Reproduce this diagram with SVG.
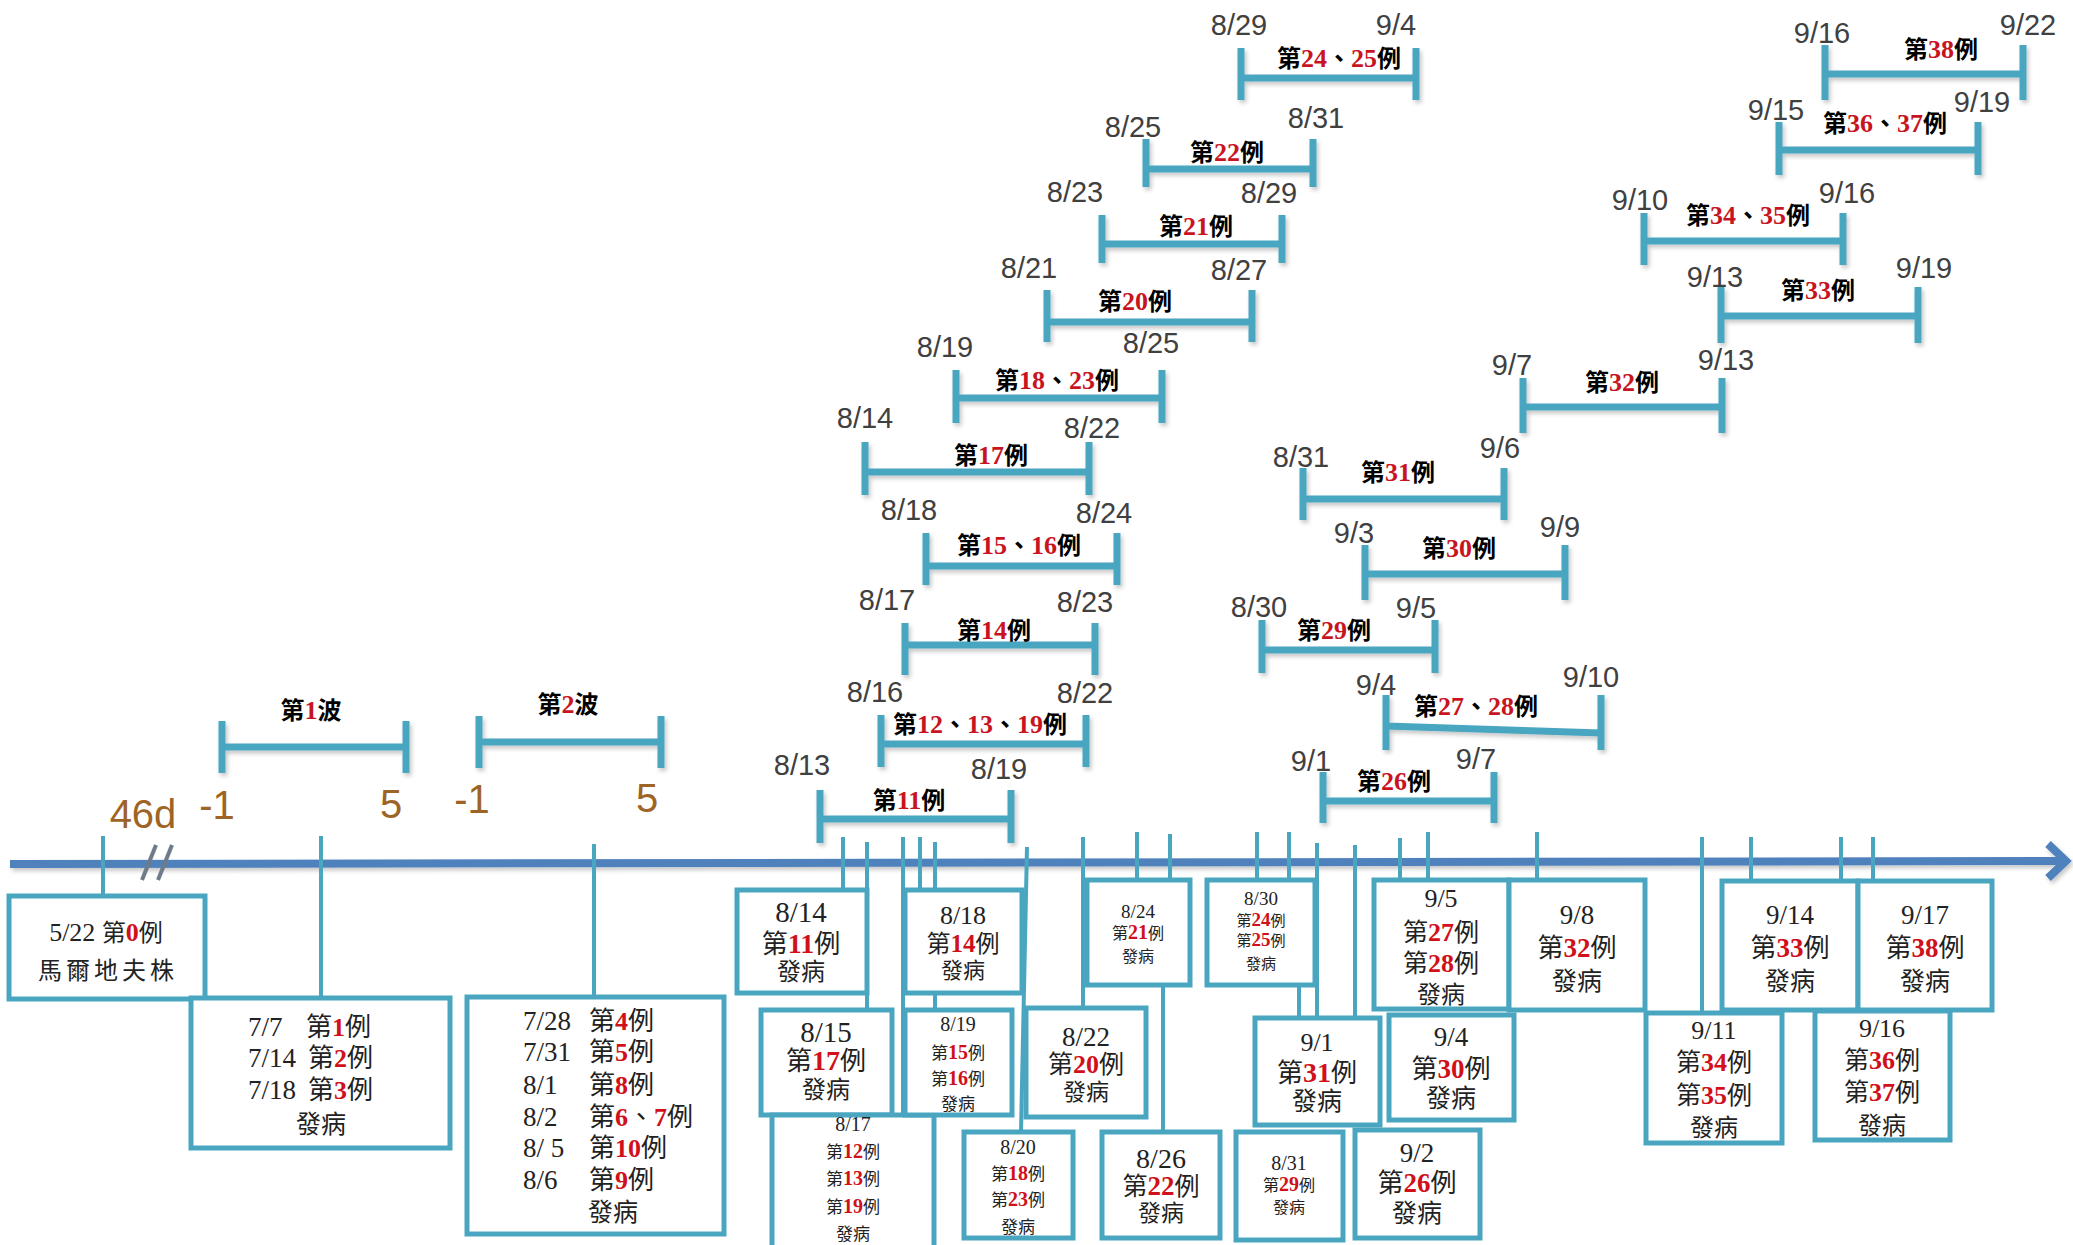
<svg xmlns="http://www.w3.org/2000/svg" width="2073" height="1245" viewBox="0 0 2073 1245">
<defs>
<filter id="sh" x="-5%" y="-30%" width="110%" height="170%"><feDropShadow dx="2" dy="3" stdDeviation="2" flood-color="#000" flood-opacity="0.22"/></filter>
<style>
.bar{fill:none;stroke:#4AA6C0;stroke-width:7;filter:url(#sh)}
.cn{stroke:#4AA6C0;stroke-width:4;fill:none}
.bx{fill:#fff;stroke:#4AA6C0;stroke-width:5}
.dl{font-family:"Liberation Sans",Arial,sans-serif;font-size:29px;fill:#404040;text-anchor:middle}
.br{font-family:"Liberation Sans",Arial,sans-serif;font-size:40px;fill:#9E6426;text-anchor:middle}
.bl{font-family:"Liberation Serif","Noto Sans CJK TC",serif;font-size:24px;font-weight:bold;fill:#000;text-anchor:middle}
.r{fill:#C8141E;font-size:26px}
.bd{font-family:"Liberation Serif","Noto Sans CJK TC",serif;fill:#222;text-anchor:middle}
.bc{font-family:"Noto Sans CJK TC","Liberation Serif",sans-serif;fill:#222;text-anchor:middle}
.st{text-anchor:start}
.rn{font-family:"Liberation Serif",serif;font-weight:bold;fill:#D0101A}
</style>
</defs>
<rect width="2073" height="1245" fill="#fff"/>

<g id="timeline" filter="url(#sh)">
<path d="M10 864 L2064 861" stroke="#4F81BD" stroke-width="8" fill="none"/>
<path d="M2048 844 L2066 861 L2048 878" stroke="#4F81BD" stroke-width="8" fill="none" stroke-linejoin="miter"/>
</g>
<g id="break-mark" stroke="#6F7B8A" stroke-width="4">
<line x1="142" y1="880" x2="156" y2="845"/>
<line x1="158" y1="880" x2="172" y2="845"/>
</g>
<text class="br" x="143" y="828">46d</text>

<g id="connectors" class="cn">
<line x1="103" y1="836" x2="103" y2="896"/>
<line x1="321" y1="836" x2="321" y2="998"/>
<line x1="594" y1="844" x2="594" y2="997"/>
<line x1="843" y1="837" x2="843" y2="890"/>
<line x1="867" y1="842" x2="867" y2="1010"/>
<line x1="903" y1="837" x2="903" y2="1115"/>
<line x1="920" y1="837" x2="920" y2="890"/>
<line x1="935" y1="842" x2="935" y2="890"/>
<line x1="935" y1="993" x2="935" y2="1010"/>
<line x1="1027" y1="847" x2="1021" y2="1132"/>
<line x1="1083" y1="837" x2="1083" y2="1008"/>
<line x1="1137" y1="832" x2="1137" y2="880"/>
<line x1="1170" y1="834" x2="1170" y2="880"/>
<line x1="1163" y1="985" x2="1163" y2="1132"/>
<line x1="1257" y1="832" x2="1257" y2="880"/>
<line x1="1289" y1="832" x2="1289" y2="880"/>
<line x1="1299" y1="985" x2="1299" y2="1018"/>
<line x1="1317" y1="843" x2="1317" y2="1018"/>
<line x1="1355" y1="845" x2="1355" y2="1018"/>
<line x1="1400" y1="838" x2="1400" y2="880"/>
<line x1="1428" y1="832" x2="1428" y2="880"/>
<line x1="1537" y1="832" x2="1537" y2="881"/>
<line x1="1702" y1="837" x2="1702" y2="1013"/>
<line x1="1751" y1="837" x2="1751" y2="881"/>
<line x1="1841" y1="837" x2="1841" y2="881"/>
<line x1="1873" y1="837" x2="1873" y2="881"/>
</g>

<g id="wave1"><path class="bar" d="M222 747H406M222 721V773M406 721V773"/>
<text class="bl" x="311" y="719">第<tspan class="r">1</tspan>波</text>
<text class="br" x="217" y="819">-1</text><text class="br" x="391" y="818">5</text></g>
<g id="wave2"><path class="bar" d="M479 742H661M479 716V768M661 716V768"/>
<text class="bl" x="568" y="713">第<tspan class="r">2</tspan>波</text>
<text class="br" x="472" y="813">-1</text><text class="br" x="647" y="812">5</text></g>

<g id="bar11"><path class="bar" d="M820 819H1011M820 790V843M1011 790V843"/>
<text class="dl" x="802" y="775">8/13</text><text class="dl" x="999" y="779">8/19</text>
<text class="bl" x="909" y="809">第<tspan class="r">11</tspan>例</text></g>
<g id="bar12"><path class="bar" d="M881 744H1086M881 715V767M1086 715V767"/>
<text class="dl" x="875" y="702">8/16</text><text class="dl" x="1085" y="703">8/22</text>
<text class="bl" x="980" y="733">第<tspan class="r">12</tspan>、<tspan class="r">13</tspan>、<tspan class="r">19</tspan>例</text></g>
<g id="bar14"><path class="bar" d="M905 645H1095M905 623V675M1095 623V675"/>
<text class="dl" x="887" y="610">8/17</text><text class="dl" x="1085" y="612">8/23</text>
<text class="bl" x="994" y="639">第<tspan class="r">14</tspan>例</text></g>
<g id="bar15"><path class="bar" d="M926 566H1117M926 533V585M1117 533V585"/>
<text class="dl" x="909" y="520">8/18</text><text class="dl" x="1104" y="523">8/24</text>
<text class="bl" x="1019" y="554">第<tspan class="r">15</tspan>、<tspan class="r">16</tspan>例</text></g>
<g id="bar17"><path class="bar" d="M865 472H1089M865 442V495M1089 442V495"/>
<text class="dl" x="865" y="428">8/14</text><text class="dl" x="1092" y="438">8/22</text>
<text class="bl" x="991" y="464">第<tspan class="r">17</tspan>例</text></g>
<g id="bar18"><path class="bar" d="M956 398H1162M956 370V423M1162 370V423"/>
<text class="dl" x="945" y="357">8/19</text><text class="dl" x="1151" y="353">8/25</text>
<text class="bl" x="1057" y="389">第<tspan class="r">18</tspan>、<tspan class="r">23</tspan>例</text></g>
<g id="bar20"><path class="bar" d="M1047 322H1252M1047 290V342M1252 290V342"/>
<text class="dl" x="1029" y="278">8/21</text><text class="dl" x="1239" y="280">8/27</text>
<text class="bl" x="1135" y="310">第<tspan class="r">20</tspan>例</text></g>
<g id="bar21"><path class="bar" d="M1102 244H1282M1102 215V263M1282 215V263"/>
<text class="dl" x="1075" y="202">8/23</text><text class="dl" x="1269" y="203">8/29</text>
<text class="bl" x="1196" y="235">第<tspan class="r">21</tspan>例</text></g>
<g id="bar22"><path class="bar" d="M1146 169H1313M1146 139V187M1313 139V187"/>
<text class="dl" x="1133" y="137">8/25</text><text class="dl" x="1316" y="128">8/31</text>
<text class="bl" x="1227" y="161">第<tspan class="r">22</tspan>例</text></g>
<g id="bar24"><path class="bar" d="M1241 78H1416M1241 48V100M1416 48V100"/>
<text class="dl" x="1239" y="35">8/29</text><text class="dl" x="1396" y="35">9/4</text>
<text class="bl" x="1339" y="67">第<tspan class="r">24</tspan>、<tspan class="r">25</tspan>例</text></g>
<g id="bar26"><path class="bar" d="M1323 801H1494M1323 772V823M1494 772V823"/>
<text class="dl" x="1311" y="771">9/1</text><text class="dl" x="1476" y="769">9/7</text>
<text class="bl" x="1394" y="790">第<tspan class="r">26</tspan>例</text></g>
<g id="bar27"><path class="bar" d="M1386 726L1601 733M1386 695V750M1601 695V750"/>
<text class="dl" x="1376" y="695">9/4</text><text class="dl" x="1591" y="687">9/10</text>
<text class="bl" x="1476" y="715">第<tspan class="r">27</tspan>、<tspan class="r">28</tspan>例</text></g>
<g id="bar29"><path class="bar" d="M1262 650H1435M1262 620V673M1435 620V673"/>
<text class="dl" x="1259" y="617">8/30</text><text class="dl" x="1416" y="618">9/5</text>
<text class="bl" x="1334" y="639">第<tspan class="r">29</tspan>例</text></g>
<g id="bar30"><path class="bar" d="M1365 574H1565M1365 545V600M1565 545V600"/>
<text class="dl" x="1354" y="543">9/3</text><text class="dl" x="1560" y="537">9/9</text>
<text class="bl" x="1459" y="557">第<tspan class="r">30</tspan>例</text></g>
<g id="bar31"><path class="bar" d="M1303 499H1504M1303 468V520M1504 468V520"/>
<text class="dl" x="1301" y="467">8/31</text><text class="dl" x="1500" y="458">9/6</text>
<text class="bl" x="1398" y="481">第<tspan class="r">31</tspan>例</text></g>
<g id="bar32"><path class="bar" d="M1523 407H1722M1523 378V433M1722 378V433"/>
<text class="dl" x="1512" y="375">9/7</text><text class="dl" x="1726" y="370">9/13</text>
<text class="bl" x="1622" y="391">第<tspan class="r">32</tspan>例</text></g>
<g id="bar33"><path class="bar" d="M1721 316H1918M1721 287V343M1918 287V343"/>
<text class="dl" x="1715" y="287">9/13</text><text class="dl" x="1924" y="278">9/19</text>
<text class="bl" x="1818" y="299">第<tspan class="r">33</tspan>例</text></g>
<g id="bar34"><path class="bar" d="M1644 241H1843M1644 213V265M1843 213V265"/>
<text class="dl" x="1640" y="210">9/10</text><text class="dl" x="1847" y="203">9/16</text>
<text class="bl" x="1748" y="224">第<tspan class="r">34</tspan>、<tspan class="r">35</tspan>例</text></g>
<g id="bar36"><path class="bar" d="M1779 150H1978M1779 122V175M1978 122V175"/>
<text class="dl" x="1776" y="120">9/15</text><text class="dl" x="1982" y="112">9/19</text>
<text class="bl" x="1885" y="132">第<tspan class="r">36</tspan>、<tspan class="r">37</tspan>例</text></g>
<g id="bar38"><path class="bar" d="M1825 74H2023M1825 45V100M2023 45V100"/>
<text class="dl" x="1822" y="43">9/16</text><text class="dl" x="2028" y="35">9/22</text>
<text class="bl" x="1941" y="58">第<tspan class="r">38</tspan>例</text></g>

<g id="box-0522"><rect class="bx" x="9" y="896" width="196" height="103"/>
<text class="bd" x="106" y="941" font-size="26">5/22 <tspan class="bc" font-size="24">第</tspan><tspan class="rn">0</tspan><tspan class="bc" font-size="24">例</tspan></text>
<text class="bc" x="108" y="979" font-size="24" letter-spacing="4" fill="#444">馬爾地夫株</text></g>

<g id="box-wave1"><rect class="bx" x="191" y="998" width="259" height="150"/>
<text class="bd st" x="248" y="1036" font-size="27">7/7</text><text class="bc st" x="306" y="1036" font-size="26">第<tspan class="rn">1</tspan>例</text>
<text class="bd st" x="248" y="1067" font-size="27">7/14</text><text class="bc st" x="308" y="1067" font-size="26">第<tspan class="rn">2</tspan>例</text>
<text class="bd st" x="248" y="1099" font-size="27">7/18</text><text class="bc st" x="308" y="1099" font-size="26">第<tspan class="rn">3</tspan>例</text>
<text class="bc" x="321" y="1133" font-size="25">發病</text></g>

<g id="box-wave2"><rect class="bx" x="467" y="997" width="257" height="237"/>
<text class="bd st" x="523" y="1030" font-size="27">7/28</text><text class="bc st" x="589" y="1030" font-size="26">第<tspan class="rn">4</tspan>例</text>
<text class="bd st" x="523" y="1061" font-size="27">7/31</text><text class="bc st" x="589" y="1061" font-size="26">第<tspan class="rn">5</tspan>例</text>
<text class="bd st" x="523" y="1094" font-size="27">8/1</text><text class="bc st" x="589" y="1094" font-size="26">第<tspan class="rn">8</tspan>例</text>
<text class="bd st" x="523" y="1126" font-size="27">8/2</text><text class="bc st" x="589" y="1126" font-size="26">第<tspan class="rn">6</tspan>、<tspan class="rn">7</tspan>例</text>
<text class="bd st" x="523" y="1157" font-size="27">8/ 5</text><text class="bc st" x="589" y="1157" font-size="26">第<tspan class="rn">10</tspan>例</text>
<text class="bd st" x="523" y="1189" font-size="27">8/6</text><text class="bc st" x="589" y="1189" font-size="26">第<tspan class="rn">9</tspan>例</text>
<text class="bc" x="613" y="1221" font-size="25">發病</text></g>

<g id="box-0814"><rect class="bx" x="737" y="890" width="130" height="103"/>
<text class="bd" x="801" y="922" font-size="29">8/14</text>
<text class="bc" x="801" y="953" font-size="26">第<tspan class="rn" font-size="28">11</tspan>例</text>
<text class="bc" x="801" y="980" font-size="24">發病</text></g>

<g id="box-0815"><rect class="bx" x="761" y="1010" width="131" height="105"/>
<text class="bd" x="826" y="1042" font-size="29">8/15</text>
<text class="bc" x="826" y="1070" font-size="26">第<tspan class="rn" font-size="28">17</tspan>例</text>
<text class="bc" x="826" y="1098" font-size="24">發病</text></g>

<g id="box-0817"><rect class="bx" x="772" y="1115" width="162" height="145"/>
<text class="bd" x="853" y="1131" font-size="20">8/17</text>
<text class="bc" x="853" y="1158" font-size="17">第<tspan class="rn" font-size="20">12</tspan>例</text>
<text class="bc" x="853" y="1185" font-size="17">第<tspan class="rn" font-size="20">13</tspan>例</text>
<text class="bc" x="853" y="1213" font-size="17">第<tspan class="rn" font-size="20">19</tspan>例</text>
<text class="bc" x="853" y="1240" font-size="17">發病</text></g>

<g id="box-0818"><rect class="bx" x="905" y="890" width="117" height="103"/>
<text class="bd" x="963" y="924" font-size="26">8/18</text>
<text class="bc" x="963" y="952" font-size="24">第<tspan class="rn" font-size="25">14</tspan>例</text>
<text class="bc" x="963" y="978" font-size="22">發病</text></g>

<g id="box-0819"><rect class="bx" x="905" y="1010" width="107" height="105"/>
<text class="bd" x="958" y="1031" font-size="20">8/19</text>
<text class="bc" x="958" y="1059" font-size="17">第<tspan class="rn" font-size="20">15</tspan>例</text>
<text class="bc" x="958" y="1085" font-size="17">第<tspan class="rn" font-size="20">16</tspan>例</text>
<text class="bc" x="958" y="1110" font-size="17">發病</text></g>

<g id="box-0820"><rect class="bx" x="964" y="1132" width="109" height="106"/>
<text class="bd" x="1018" y="1154" font-size="20">8/20</text>
<text class="bc" x="1018" y="1180" font-size="17">第<tspan class="rn" font-size="20">18</tspan>例</text>
<text class="bc" x="1018" y="1206" font-size="17">第<tspan class="rn" font-size="20">23</tspan>例</text>
<text class="bc" x="1018" y="1233" font-size="17">發病</text></g>

<g id="box-0822"><rect class="bx" x="1026" y="1008" width="120" height="109"/>
<text class="bd" x="1086" y="1046" font-size="27">8/22</text>
<text class="bc" x="1086" y="1073" font-size="25">第<tspan class="rn" font-size="26">20</tspan>例</text>
<text class="bc" x="1086" y="1100" font-size="23">發病</text></g>

<g id="box-0824"><rect class="bx" x="1087" y="880" width="103" height="105"/>
<text class="bd" x="1138" y="918" font-size="19">8/24</text>
<text class="bc" x="1138" y="939" font-size="16">第<tspan class="rn" font-size="20">21</tspan>例</text>
<text class="bc" x="1138" y="962" font-size="16">發病</text></g>

<g id="box-0826"><rect class="bx" x="1102" y="1132" width="118" height="106"/>
<text class="bd" x="1161" y="1168" font-size="28">8/26</text>
<text class="bc" x="1161" y="1195" font-size="25">第<tspan class="rn" font-size="27">22</tspan>例</text>
<text class="bc" x="1161" y="1221" font-size="23">發病</text></g>

<g id="box-0830"><rect class="bx" x="1207" y="880" width="108" height="105"/>
<text class="bd" x="1261" y="905" font-size="19">8/30</text>
<text class="bc" x="1261" y="926" font-size="15">第<tspan class="rn" font-size="19">24</tspan>例</text>
<text class="bc" x="1261" y="946" font-size="15">第<tspan class="rn" font-size="19">25</tspan>例</text>
<text class="bc" x="1261" y="969" font-size="15">發病</text></g>

<g id="box-0901"><rect class="bx" x="1255" y="1018" width="125" height="107"/>
<text class="bd" x="1317" y="1051" font-size="26">9/1</text>
<text class="bc" x="1317" y="1082" font-size="26">第<tspan class="rn" font-size="28">31</tspan>例</text>
<text class="bc" x="1317" y="1110" font-size="25">發病</text></g>

<g id="box-0831"><rect class="bx" x="1236" y="1132" width="107" height="108"/>
<text class="bd" x="1289" y="1170" font-size="20">8/31</text>
<text class="bc" x="1289" y="1191" font-size="16">第<tspan class="rn" font-size="20">29</tspan>例</text>
<text class="bc" x="1289" y="1213" font-size="16">發病</text></g>

<g id="box-0902"><rect class="bx" x="1355" y="1130" width="125" height="108"/>
<text class="bd" x="1417" y="1162" font-size="27">9/2</text>
<text class="bc" x="1417" y="1192" font-size="26">第<tspan class="rn" font-size="27">26</tspan>例</text>
<text class="bc" x="1417" y="1222" font-size="25">發病</text></g>

<g id="box-0905"><rect class="bx" x="1374" y="880" width="135" height="129"/>
<text class="bd" x="1441" y="907" font-size="26">9/5</text>
<text class="bc" x="1441" y="941" font-size="25">第<tspan class="rn" font-size="26">27</tspan>例</text>
<text class="bc" x="1441" y="972" font-size="25">第<tspan class="rn" font-size="26">28</tspan>例</text>
<text class="bc" x="1441" y="1003" font-size="24">發病</text></g>

<g id="box-0908"><rect class="bx" x="1509" y="880" width="136" height="130"/>
<text class="bd" x="1577" y="924" font-size="27">9/8</text>
<text class="bc" x="1577" y="957" font-size="26">第<tspan class="rn" font-size="27">32</tspan>例</text>
<text class="bc" x="1577" y="990" font-size="25">發病</text></g>

<g id="box-0904"><rect class="bx" x="1389" y="1015" width="125" height="105"/>
<text class="bd" x="1451" y="1046" font-size="27">9/4</text>
<text class="bc" x="1451" y="1078" font-size="26">第<tspan class="rn" font-size="27">30</tspan>例</text>
<text class="bc" x="1451" y="1107" font-size="25">發病</text></g>

<g id="box-0914"><rect class="bx" x="1722" y="881" width="136" height="129"/>
<text class="bd" x="1790" y="924" font-size="27">9/14</text>
<text class="bc" x="1790" y="957" font-size="26">第<tspan class="rn" font-size="27">33</tspan>例</text>
<text class="bc" x="1790" y="990" font-size="25">發病</text></g>

<g id="box-0917"><rect class="bx" x="1858" y="881" width="134" height="129"/>
<text class="bd" x="1925" y="924" font-size="27">9/17</text>
<text class="bc" x="1925" y="957" font-size="26">第<tspan class="rn" font-size="27">38</tspan>例</text>
<text class="bc" x="1925" y="990" font-size="25">發病</text></g>

<g id="box-0911"><rect class="bx" x="1646" y="1013" width="136" height="130"/>
<text class="bd" x="1714" y="1039" font-size="26">9/11</text>
<text class="bc" x="1714" y="1071" font-size="25">第<tspan class="rn" font-size="26">34</tspan>例</text>
<text class="bc" x="1714" y="1104" font-size="25">第<tspan class="rn" font-size="26">35</tspan>例</text>
<text class="bc" x="1714" y="1136" font-size="24">發病</text></g>

<g id="box-0916"><rect class="bx" x="1815" y="1011" width="135" height="129"/>
<text class="bd" x="1882" y="1037" font-size="26">9/16</text>
<text class="bc" x="1882" y="1069" font-size="25">第<tspan class="rn" font-size="26">36</tspan>例</text>
<text class="bc" x="1882" y="1101" font-size="25">第<tspan class="rn" font-size="26">37</tspan>例</text>
<text class="bc" x="1882" y="1134" font-size="24">發病</text></g>
</svg>
